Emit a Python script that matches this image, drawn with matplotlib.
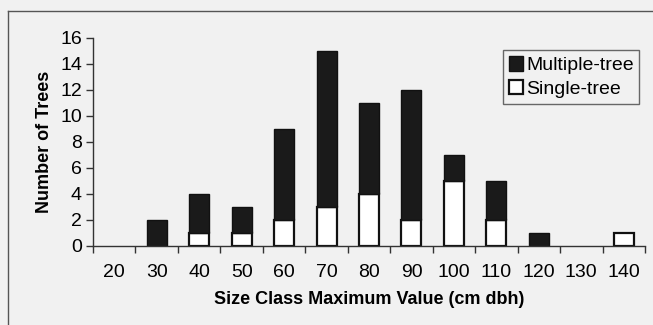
import matplotlib.pyplot as plt
import matplotlib
from matplotlib.lines import Line2D
from matplotlib.patches import Patch

matplotlib.rcParams['font.family'] = ['Liberation Sans', 'DejaVu Sans']

size_class = ['20', '30', '40', '50', '60', '70', '80', '90', '100', '110', '120', '130', '140']
single_tree = [0, 0, 1, 1, 2, 3, 4, 2, 5, 2, 0, 0, 1]
multiple_tree = [0, 2, 3, 2, 7, 12, 7, 10, 2, 3, 1, 0, 0]

bg = '#f1f1f1'
fig = plt.figure(figsize=(6.53, 3.25), dpi=100, facecolor=bg)
ax = fig.add_axes([93 / 653, 1 - 246 / 325, 552 / 653, 208 / 325])
ax.set_facecolor(bg)

x = range(len(size_class))
w = 0.47
# no outline for empty segments
lw_single = [1.6 if v > 0 else 0 for v in single_tree]
lw_multi = [1.0 if v > 0 else 0 for v in multiple_tree]
ax.bar(x, single_tree, w, color='white', edgecolor='#111111', linewidth=lw_single)
ax.bar(x, multiple_tree, w, bottom=single_tree, color='#1a1a1a', edgecolor='#111111',
       linewidth=lw_multi)

ax.set_xlim(-0.5, len(size_class) - 0.5)
ax.set_ylim(0, 16)
ax.set_yticks(range(0, 17, 2))

# tick marks sit on category boundaries, labels in the middle
ax.set_xticks([i - 0.5 for i in range(len(size_class) + 1)])
ax.set_xticklabels([])
ax.set_xticks(list(x), minor=True)
ax.set_xticklabels(size_class, minor=True)
ax.tick_params(axis='x', which='major', direction='out', length=5, width=1, color='#333333')
ax.tick_params(axis='x', which='minor', length=0, pad=13, labelsize=14)
ax.tick_params(axis='y', direction='out', length=5, width=1, color='#333333', labelsize=14, pad=3)

for s in ['top', 'right']:
    ax.spines[s].set_visible(False)
for s in ['left', 'bottom']:
    ax.spines[s].set_color('#333333')
    ax.spines[s].set_linewidth(1)

ax.set_xlabel('Size Class Maximum Value (cm dbh)', fontsize=13, fontweight='bold', labelpad=7)
ax.set_ylabel('Number of Trees', fontsize=13, fontweight='bold', labelpad=5)

handles = [Patch(facecolor='#1a1a1a', edgecolor='#111111', linewidth=1.0),
           Patch(facecolor='white', edgecolor='#111111', linewidth=1.6)]
leg = ax.legend(handles, ['Multiple-tree', 'Single-tree'], loc='upper right',
                bbox_to_anchor=(0.99, 0.94), fontsize=14, frameon=True, fancybox=False,
                handlelength=0.75, handleheight=0.75, handletextpad=0.15, borderpad=0.3,
                labelspacing=0.3, borderaxespad=0)
leg.get_frame().set_edgecolor('#444444')
leg.get_frame().set_facecolor(bg)
leg.get_frame().set_linewidth(1)

# chart area border (top and left edges)
fig.add_artist(Line2D([8 / 653, 1], [1 - 11 / 325] * 2, transform=fig.transFigure,
                      color='#555555', linewidth=1))
fig.add_artist(Line2D([8 / 653] * 2, [0, 1 - 11 / 325], transform=fig.transFigure,
                      color='#555555', linewidth=1))

fig.savefig('out.png', dpi=100, facecolor=bg)
